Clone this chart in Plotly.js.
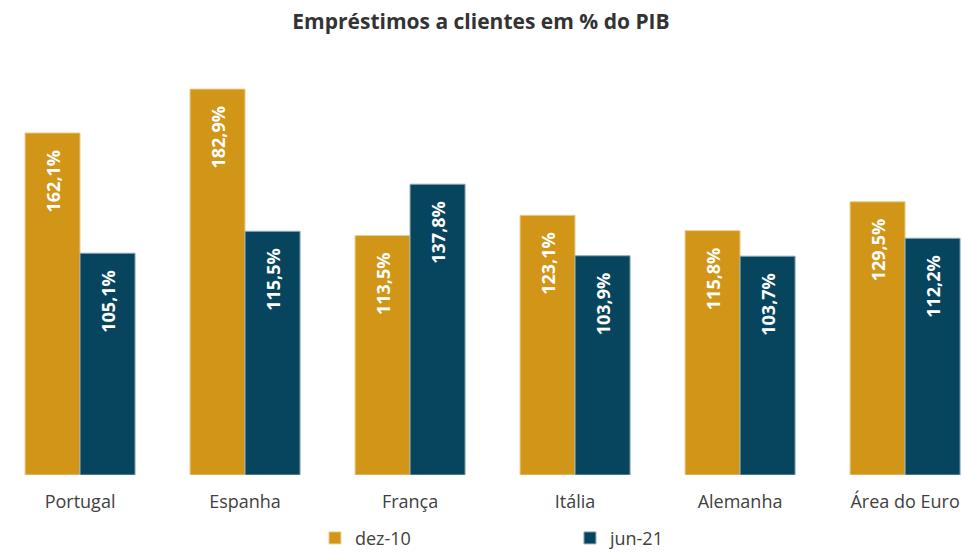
<!DOCTYPE html>
<html>
<head>
<meta charset="utf-8">
<script src="https://cdn.plot.ly/plotly-3.0.1.min.js"></script>
<style>html,body{margin:0;padding:0;background:#fff;}#chart{width:962px;height:552px;}</style>
</head>
<body>
<div id="chart"></div>
<script>
const categories = ["Portugal", "Espanha", "França", "Itália", "Alemanha", "Área do Euro"];
const dez10 = [162.1, 182.9, 113.5, 123.1, 115.8, 129.5];
const jun21 = [105.1, 115.5, 137.8, 103.9, 103.7, 112.2];
const seriesNames = ["dez-10", "jun-21"];

const fmt = v => v.toFixed(1).replace('.', ',') + '%\u00a0\u00a0\u00a0';

const common = {
  type: 'bar',
  x: categories,
  textposition: 'inside',
  insidetextanchor: 'end',
  textangle: -90,
  insidetextfont: {family: 'Open Sans, sans-serif', size: 18, color: '#ffffff', weight: 700},
  hoverinfo: 'skip',
  cliponaxis: false
};

const data = [
  Object.assign({}, common, {
    name: seriesNames[0], y: dez10, text: dez10.map(fmt),
    marker: {color: '#D19518', line: {color: '#EBCF93', width: 1}}
  }),
  Object.assign({}, common, {
    name: seriesNames[1], y: jun21, text: jun21.map(fmt),
    marker: {color: '#07455F', line: {color: '#8FA9B6', width: 1}}
  })
];

const layout = {
  width: 962, height: 552,
  margin: {l: 0, r: 0, t: 50, b: 77},
  paper_bgcolor: '#ffffff', plot_bgcolor: '#ffffff',
  title: {text: 'Empréstimos a clientes em % do PIB', x: 0.5, xanchor: 'center', y: 0.96, yanchor: 'middle',
          font: {family: 'Open Sans, sans-serif', size: 21, color: '#333333', weight: 700}},
  barmode: 'group', bargap: 0.333, bargroupgap: 0,
  xaxis: {range: [-0.485, 5.345], showgrid: false, zeroline: false, showline: false, ticks: '',
          ticklabelstandoff: 14, automargin: false,
          tickfont: {family: 'Open Sans, sans-serif', size: 18, color: '#404040'}, fixedrange: true},
  yaxis: {range: [0, 201.4], visible: false, fixedrange: true, automargin: false},
  showlegend: true,
  legend: {orientation: 'h', x: 0.3274, xanchor: 'left', xref: 'paper',
           y: 0.025, yanchor: 'middle', yref: 'container',
           entrywidth: 210, entrywidthmode: 'pixels',
           font: {family: 'Open Sans, sans-serif', size: 18, color: '#404040'}}
};

Plotly.newPlot('chart', data, layout, {displayModeBar: false, staticPlot: true});
</script>
</body>
</html>
